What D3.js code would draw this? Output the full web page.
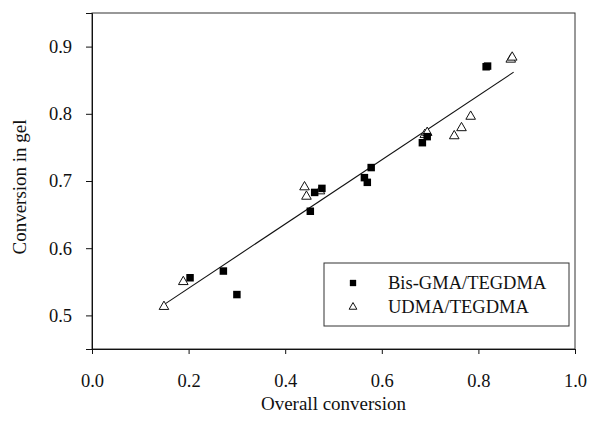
<!DOCTYPE html>
<html>
<head>
<meta charset="utf-8">
<script src="https://cdn.jsdelivr.net/npm/d3@7"></script>
<style>
  body { margin: 0; background: #fff; }
  text { font-family: "Liberation Serif", "Times New Roman", serif; fill: #111; }
</style>
</head>
<body>
<div id="chart"></div>
<script>
// Bis-GMA/TEGDMA (filled squares)
var bisX = [0.203, 0.272, 0.300, 0.452, 0.461, 0.476, 0.564, 0.570, 0.578, 0.684, 0.694, 0.816, 0.819];
var bisY = [0.556, 0.566, 0.531, 0.655, 0.683, 0.689, 0.705, 0.698, 0.720, 0.757, 0.766, 0.870, 0.871];
// UDMA/TEGDMA (open triangles)
var udmaX = [0.149, 0.189, 0.440, 0.444, 0.472, 0.689, 0.694, 0.750, 0.765, 0.784, 0.867, 0.870];
var udmaY = [0.513, 0.550, 0.691, 0.677, 0.685, 0.769, 0.772, 0.767, 0.779, 0.796, 0.881, 0.884];
// fitted line end points
var fitX = [0.149, 0.873];
var fitY = [0.516, 0.862];

var xTicks = [0.0, 0.2, 0.4, 0.6, 0.8, 1.0];
var yTicks = [0.5, 0.6, 0.7, 0.8, 0.9];
var seriesNames = ["Bis-GMA/TEGDMA", "UDMA/TEGDMA"];

function init() {
    var w = 592;
    var h = 422;
    var margin = {top: 13, right: 17, bottom: 73, left: 92};
    var iw = w - margin.left - margin.right;
    var ih = h - margin.top - margin.bottom;

    var svg = d3.select("#chart")
        .append("svg")
        .attr("width", w)
        .attr("height", h);

    var g = svg.append("g")
        .attr("transform", "translate(" + margin.left + "," + margin.top + ")");

    var xScale = d3.scaleLinear().domain([0, 1]).range([0, iw]);
    var yScale = d3.scaleLinear().domain([0.45, 0.95]).range([ih, 0]);

    // frame
    g.append("rect")
        .attr("x", 0).attr("y", 0)
        .attr("width", iw).attr("height", ih)
        .attr("fill", "none")
        .attr("stroke", "#333")
        .attr("stroke-width", 1);

    var xAxis = g.append("g")
        .attr("transform", "translate(0," + ih + ")")
        .call(d3.axisBottom(xScale).tickValues(xTicks).tickFormat(d3.format(".1f"))
            .tickSize(5).tickPadding(20));
    var yAxis = g.append("g")
        .call(d3.axisLeft(yScale).tickValues(yTicks).tickFormat(d3.format(".1f"))
            .tickSize(6).tickPadding(14));

    [xAxis, yAxis].forEach(function(a){
        a.select(".domain").attr("stroke", "#111");
        a.selectAll(".tick line").attr("stroke", "#111");
        a.selectAll("text")
            .style("font-family", "'Liberation Serif', serif")
            .style("font-size", "18.5px")
            .attr("fill", "#111");
    });

    // fit line
    var line = d3.line()
        .x(function(d){ return xScale(d[0]); })
        .y(function(d){ return yScale(d[1]); });
    g.append("path")
        .datum(d3.zip(fitX, fitY))
        .attr("d", line)
        .attr("fill", "none")
        .attr("stroke", "#111")
        .attr("stroke-width", 1.1);

    var square = d3.symbol().type(d3.symbolSquare).size(56);
    var tri = d3.symbol().type(d3.symbolTriangle).size(40);

    g.selectAll(".udma")
        .data(d3.zip(udmaX, udmaY))
        .enter()
        .append("path")
        .attr("class", "udma")
        .attr("d", tri)
        .attr("transform", function(d){ return "translate(" + xScale(d[0]) + "," + yScale(d[1]) + ")"; })
        .attr("fill", "#fff")
        .attr("stroke", "#111")
        .attr("stroke-width", 1);

    g.selectAll(".bis")
        .data(d3.zip(bisX, bisY))
        .enter()
        .append("path")
        .attr("class", "bis")
        .attr("d", square)
        .attr("transform", function(d){ return "translate(" + xScale(d[0]) + "," + yScale(d[1]) + ")"; })
        .attr("fill", "#000");

    // axis titles
    svg.append("text")
        .attr("x", margin.left + iw / 2)
        .attr("y", 410)
        .attr("text-anchor", "middle")
        .style("font-size", "19px")
        .text("Overall conversion");
    svg.append("text")
        .attr("transform", "translate(26," + (margin.top + ih / 2 + 6) + ") rotate(-90)")
        .attr("text-anchor", "middle")
        .style("font-size", "19px")
        .text("Conversion in gel");

    // legend
    var legend = svg.append("g").attr("transform", "translate(324,263)");
    legend.append("rect")
        .attr("width", 245).attr("height", 63)
        .attr("fill", "#fff")
        .attr("stroke", "#333");
    legend.append("path")
        .attr("d", d3.symbol().type(d3.symbolSquare).size(40))
        .attr("transform", "translate(29,20)")
        .attr("fill", "#000");
    legend.append("path")
        .attr("d", d3.symbol().type(d3.symbolTriangle).size(26))
        .attr("transform", "translate(29,44)")
        .attr("fill", "#fff")
        .attr("stroke", "#111");
    legend.selectAll(".lt")
        .data(seriesNames)
        .enter()
        .append("text")
        .attr("x", 64)
        .attr("y", function(d, i){ return 26 + i * 24; })
        .style("font-size", "18.5px")
        .text(function(d){ return d; });
}

window.onload = init;
</script>
</body>
</html>
